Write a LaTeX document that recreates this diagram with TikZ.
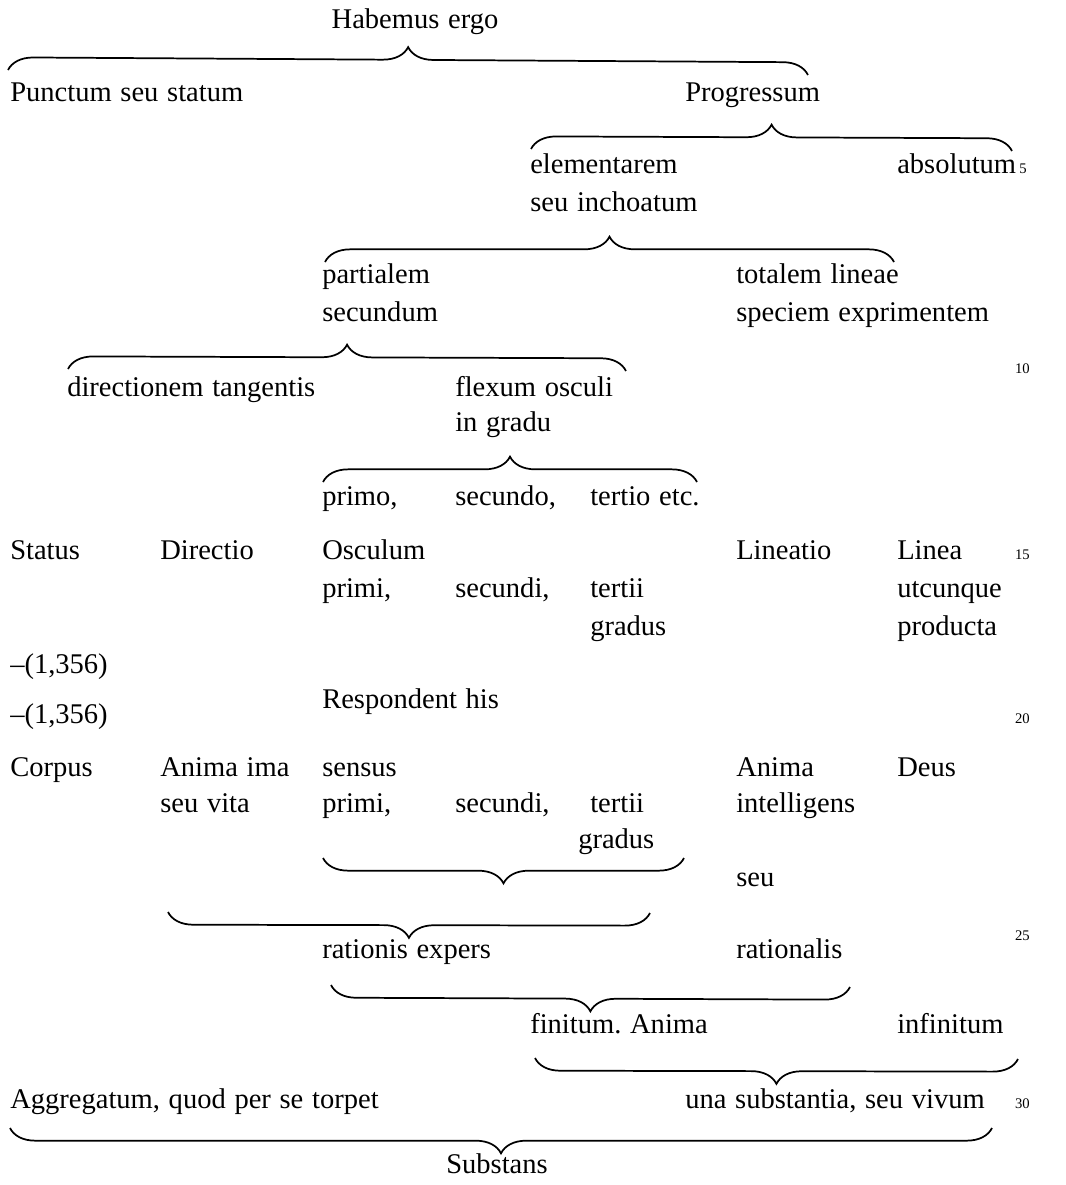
\documentclass[tikz,border=0pt]{standalone}
\usepackage{fontspec}
\setmainfont{Liberation Serif}[WordSpace=1.22]
\usetikzlibrary{decorations.pathreplacing}
\begin{document}
\frenchspacing
\begin{tikzpicture}[x=0.75pt,y=-0.75pt,
  txt/.style={anchor=base west,inner sep=0pt,font=\fontsize{21.4}{25}\selectfont},
  ctxt/.style={anchor=base,inner sep=0pt,font=\fontsize{21.4}{25}\selectfont},
  lnum/.style={anchor=base east,inner sep=0pt,font=\fontsize{11}{13}\selectfont},
  brup/.style={decorate,decoration={brace,amplitude=19pt},line width=1.3pt},
  brdn/.style={decorate,decoration={brace,mirror,amplitude=19pt},line width=1.3pt}]
\useasboundingbox (0,0) rectangle (1066,1185);
% texts
\node[ctxt] (habemus) at (415,28) {Habemus ergo};
\node[txt] (punctum) at (10,101) {Punctum seu statum};
\node[txt] (progressum) at (685,101) {Progressum};
\node[txt] (elementarem) at (530,173) {elementarem};
\node[txt] (inchoatum) at (530,211) {seu inchoatum};
\node[txt] (absolutum) at (897,173) {absolutum};
\node[lnum] (n5) at (1027,173) {5};
\node[txt] (partialem) at (322,283) {partialem};
\node[txt] (secundum) at (322,321) {secundum};
\node[txt] (totalem) at (736,283) {totalem lineae};
\node[txt] (speciem) at (736,321) {speciem exprimentem};
\node[txt] (directionem) at (67,396) {directionem tangentis};
\node[txt] (flexum) at (455,396) {flexum osculi};
\node[txt] (ingradu) at (455,431) {in gradu};
\node[lnum] (n10) at (1030,373) {10};
\node[txt] (primo) at (322,505) {primo,};
\node[txt] (secundo) at (455,505) {secundo,};
\node[txt] (tertio) at (590,505) {tertio etc.};
\node[txt] (status) at (10,559) {Status};
\node[txt] (directio) at (160,559) {Directio};
\node[txt] (osculum) at (322,559) {Osculum};
\node[txt] (lineatio) at (736,559) {Lineatio};
\node[txt] (linea) at (897,559) {Linea};
\node[lnum] (n15) at (1030,559) {15};
\node[txt] (primiA) at (322,597) {primi,};
\node[txt] (secundiA) at (455,597) {secundi,};
\node[txt] (tertiiA) at (590,597) {tertii};
\node[txt] (utcunque) at (897,597) {utcunque};
\node[txt] (gradusA) at (590,635) {gradus};
\node[txt] (producta) at (897,635) {producta};
\node[txt] (refA) at (10,673) {–(1,356)};
\node[txt] (respondent) at (322,708) {Respondent his};
\node[txt] (refB) at (10,723) {–(1,356)};
\node[lnum] (n20) at (1030,723) {20};
\node[txt] (corpus) at (10,776) {Corpus};
\node[txt] (animaima) at (160,776) {Anima ima};
\node[txt] (sensus) at (322,776) {sensus};
\node[txt] (animaB) at (736,776) {Anima};
\node[txt] (deus) at (897,776) {Deus};
\node[txt] (seuvita) at (160,812) {seu vita};
\node[txt] (primiB) at (322,812) {primi,};
\node[txt] (secundiB) at (455,812) {secundi,};
\node[txt] (tertiiB) at (590,812) {tertii};
\node[txt] (intelligens) at (736,812) {intelligens};
\node[txt] (gradusB) at (578,848) {gradus};
\node[txt] (seu) at (736,886) {seu};
\node[txt] (rationis) at (322,958) {rationis expers};
\node[txt] (rationalis) at (736,958) {rationalis};
\node[lnum] (n25) at (1030,940) {25};
\node[txt] (finitum) at (530,1033) {finitum. Anima};
\node[txt] (infinitum) at (897,1033) {infinitum};
\node[txt] (aggregatum) at (10,1108) {Aggregatum, quod per se torpet};
\node[txt] (una) at (685,1108) {una substantia, seu vivum};
\node[lnum] (n30) at (1030,1108) {30};
\node[ctxt] (substans) at (497,1173) {Substans};
% brace end points
\coordinate (b1l) at (8,70);   \coordinate (b1r) at (808,75);
\coordinate (b2l) at (531,149); \coordinate (b2r) at (1012,151);
\coordinate (b3l) at (325,262); \coordinate (b3r) at (894,262);
\coordinate (b4l) at (68,369);  \coordinate (b4r) at (626,371);
\coordinate (b5l) at (323,482); \coordinate (b5r) at (697,482);
\coordinate (b6l) at (323,858); \coordinate (b6r) at (684,858);
\coordinate (b7l) at (168,912); \coordinate (b7r) at (650,913);
\coordinate (b8l) at (331,985); \coordinate (b8r) at (850,987);
\coordinate (b9l) at (535,1058); \coordinate (b9r) at (1018,1059);
\coordinate (b10l) at (10,1128); \coordinate (b10r) at (992,1128);
% braces
\draw[brup] (b1l) -- (b1r);
\draw[brup] (b2l) -- (b2r);
\draw[brup] (b3l) -- (b3r);
\draw[brup] (b4l) -- (b4r);
\draw[brup] (b5l) -- (b5r);
\draw[brdn] (b6l) -- (b6r);
\draw[brdn] (b7l) -- (b7r);
\draw[brdn] (b8l) -- (b8r);
\draw[brdn] (b9l) -- (b9r);
\draw[brdn] (b10l) -- (b10r);
\end{tikzpicture}
\end{document}
